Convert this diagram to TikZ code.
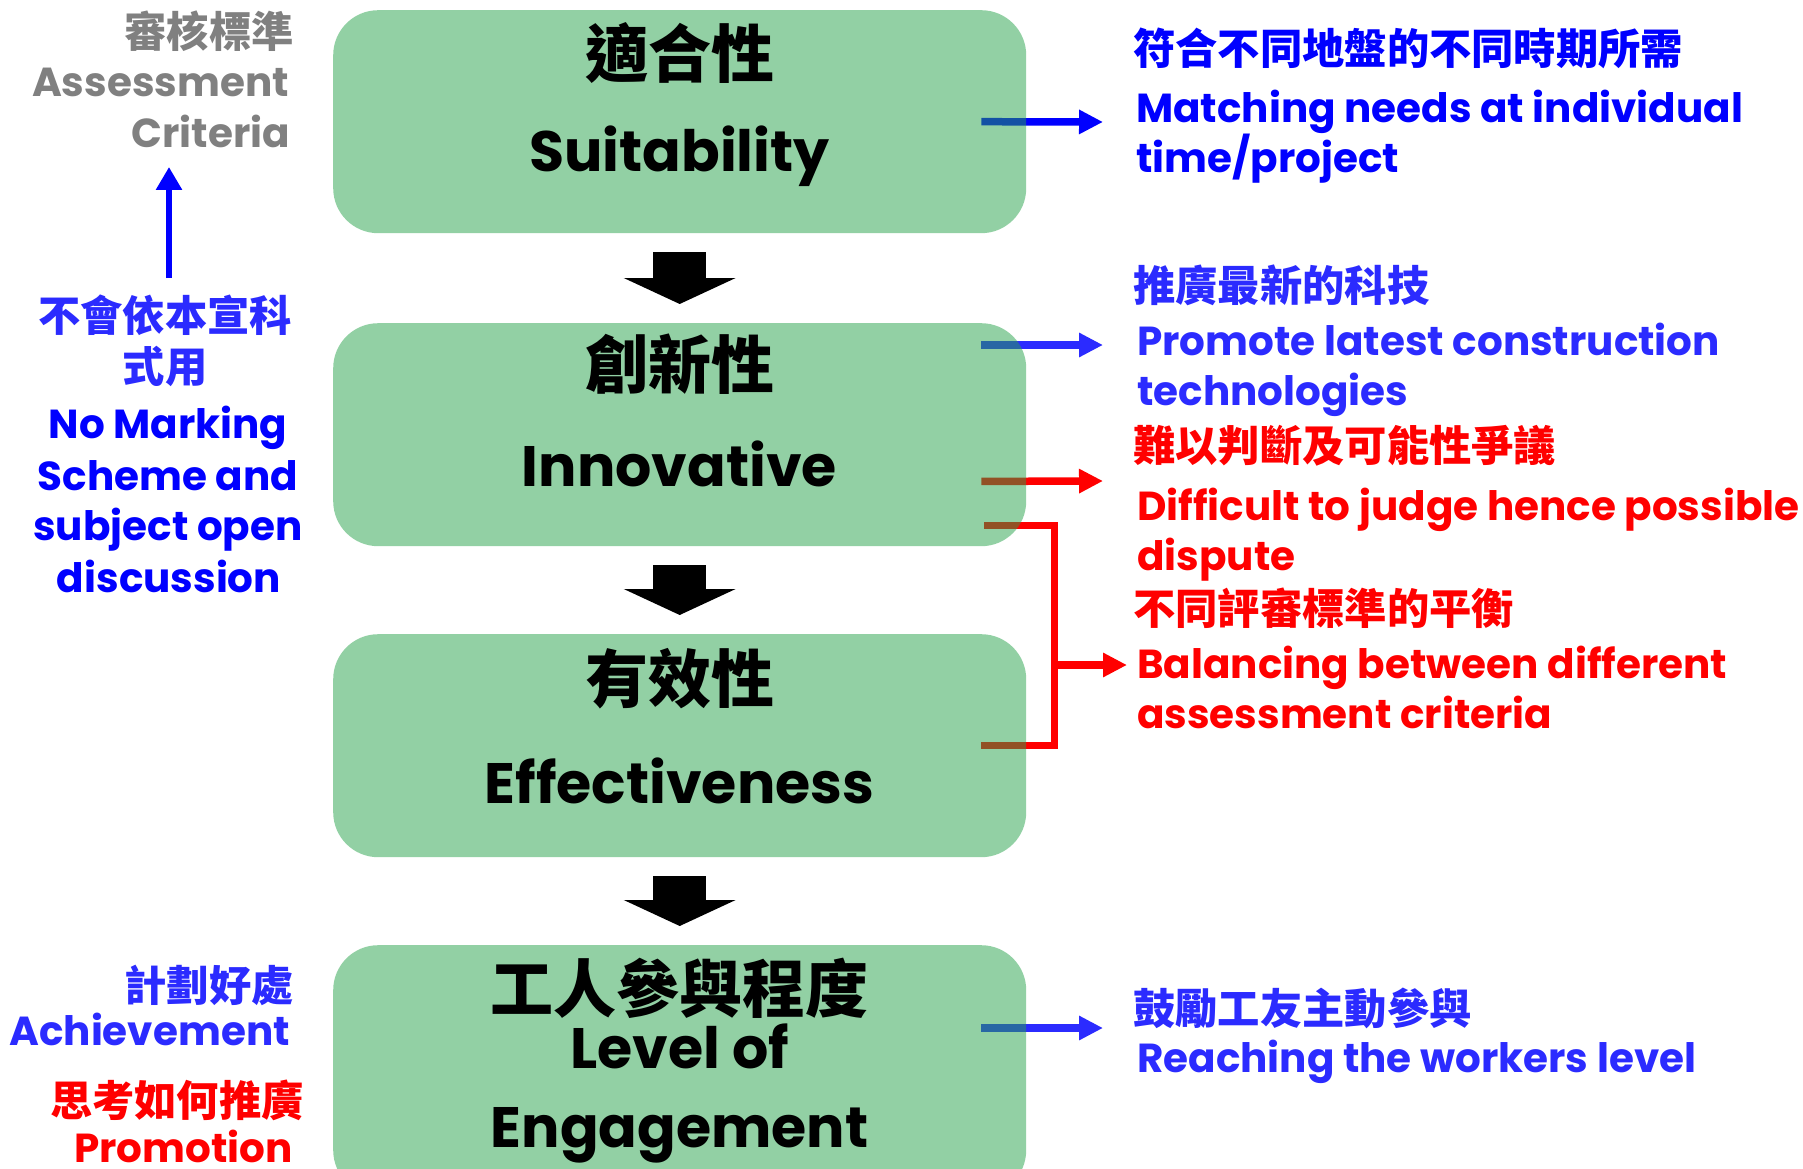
\documentclass[tikz,border=0pt]{standalone}
\usepackage{fontspec}
\setmainfont{Poppins}
\newfontfamily\cjk{Noto Sans CJK TC}
\usetikzlibrary{arrows.meta,calc}
\pgfdeclarelayer{bg}
\pgfsetlayers{bg,main}
\definecolor{boxg}{RGB}{39,163,75}
\definecolor{lblue}{RGB}{43,43,255}
\definecolor{pblue}{RGB}{0,0,255}
\definecolor{gtxt}{RGB}{128,128,128}
\tikzset{
  flowbox/.style={draw=none, fill=boxg, fill opacity=0.5, text opacity=1,
    rounded corners=45pt, minimum width=693pt, minimum height=223pt,
    inner sep=0, anchor=north west},
  btitle/.style={inner sep=0, anchor=base, font=\fontsize{57}{57}\selectfont\bfseries},
  bcjk/.style={inner sep=0, anchor=base, font=\fontsize{63}{63}\selectfont\cjk\bfseries},
  sen/.style={inner sep=0, font=\fontsize{40.5}{50}\selectfont\bfseries},
  scjk/.style={inner sep=0, font=\fontsize{42.3}{42}\selectfont\cjk\bfseries},
  darrow/.style={line width=53pt, shorten <=19pt, shorten >=19pt,
    -{Triangle[length=26pt,width=111pt]}},
  rarrow/.style={line width=7.5pt, -{Triangle[length=24pt,width=23pt]}},
  uarrow/.style={line width=6pt, pblue, -{Triangle[length=23pt,width=25pt]}},
  bracket/.style={line width=7pt, red},
}
\begin{document}
\begin{tikzpicture}[x=1pt,y=-1pt]
\begin{pgfonlayer}{bg}
\fill[white] (0,0) rectangle (1803,1169);
\end{pgfonlayer}
\useasboundingbox (0,0) rectangle (1803,1169);

% boxes
\node[flowbox] (b1) at (333,10) {};
\node[flowbox] (b2) at (333,323) {};
\node[flowbox] (b3) at (333,634) {};
\node[flowbox, minimum height=250pt] (b4) at (333,945) {};

% box titles
\node[bcjk] (c1) at (679.5,78) {適合性};
\node[btitle] (e1) at (679.5,172) {Suitability};
\node[bcjk] (c2) at (679.5,388) {創新性};
\node[btitle] (e2) at (679.5,486) {Innovative};
\node[bcjk] (c3) at (679.5,702) {有效性};
\node[btitle] (e3) at (679.5,803) {Effectiveness};
\node[bcjk] (c4) at (679.5,1012) {工人參與程度};
\node[btitle] (e4a) at (679.5,1068) {Level of};
\node[btitle] (e4b) at (679.5,1147) {Engagement};

% down arrows
\draw[darrow] (b1.south) -- (b2.north);
\draw[darrow] (b2.south) -- (b3.north);
\draw[darrow] (b3.south) -- (b4.north);

% left column
\node[scjk, text=gtxt, anchor=base east] (l1) at (294,48) {審核標準};
\node[sen, text=gtxt, anchor=base east] (l2) at (289,97) {Assessment};
\node[sen, text=gtxt, anchor=base east] (l3) at (290,148) {Criteria};
\node[scjk, text=lblue, anchor=base] (l4) at (165,331) {不會依本宣科};
\node[scjk, text=lblue, anchor=base] (l5) at (165,382) {式用};
\node[sen, text=pblue, anchor=base] (l6) at (168,438) {No Marking};
\node[sen, text=pblue, anchor=base] (l7) at (168,490) {Scheme and};
\node[sen, text=pblue, anchor=base] (l8) at (168,540) {subject open};
\node[sen, text=pblue, anchor=base] (l9) at (169,592) {discussion};
\node[scjk, text=lblue, anchor=base east] (l10) at (294,1001) {計劃好處};
\node[sen, text=lblue, anchor=base east] (l11) at (290,1045) {Achievement};
\node[scjk, text=red, anchor=base east] (l12) at (304,1116) {思考如何推廣};
\node[sen, text=red, anchor=base east] (l13) at (293,1162) {Promotion};

\coordinate (ua) at (169,278);
\coordinate (ub) at (169,167);
\draw[uarrow] (ua) -- (ub);

% right column
\node[scjk, text=pblue, anchor=base west] (r1) at (1133,65) {符合不同地盤的不同時期所需};
\node[sen, text=pblue, anchor=base west] (r2) at (1136,123) {Matching needs at individual};
\node[sen, text=pblue, anchor=base west] (r3) at (1136,173) {time/project};
\node[scjk, text=lblue, anchor=base west] (r4) at (1133,301) {推廣最新的科技};
\node[sen, text=lblue, anchor=base west] (r5) at (1137,355) {Promote latest construction};
\node[sen, text=lblue, anchor=base west] (r6) at (1137,405) {technologies};
\node[scjk, text=red, anchor=base west] (r7) at (1133,461) {難以判斷及可能性爭議};
\node[sen, text=red, anchor=base west] (r8) at (1137,520) {Difficult to judge hence possible};
\node[sen, text=red, anchor=base west] (r9) at (1137,570) {dispute};
\node[scjk, text=red, anchor=base west] (r10) at (1133,624) {不同評審標準的平衡};
\node[sen, text=red, anchor=base west] (r11) at (1137,678) {Balancing between different};
\node[sen, text=red, anchor=base west] (r12) at (1137,728) {assessment criteria};
\node[scjk, text=lblue, anchor=base west] (r13) at (1133,1024) {鼓勵工友主動參與};
\node[sen, text=lblue, anchor=base west] (r14) at (1137,1072) {Reaching the workers level};

% side arrows (under the translucent boxes)
\coordinate (t1) at (1103,122);
\coordinate (t2) at (1103,345);
\coordinate (t3) at (1103,481);
\coordinate (kv) at (1054,665);
\coordinate (t4) at (1127,665);
\coordinate (t5) at (1103,1028);
\begin{pgfonlayer}{bg}
\draw[rarrow, pblue] ($(b1.east)+(-45,0)$) -- (t1);
\draw[rarrow, lblue] ($(b2.north east)+(-45,22)$) -- (t2);
\draw[rarrow, red] ($(b2.south east)+(-45,-65)$) -- (t3);
\draw[bracket] ($(b2.south east)+(-42,-21)$) -| (kv) |- ($(b3.east)+(-45,0)$);
\draw[rarrow, red] (kv) -- (t4);
\draw[rarrow, lblue] ($(b4.north east)+(-45,83)$) -- (t5);
\end{pgfonlayer}
\end{tikzpicture}
\end{document}
